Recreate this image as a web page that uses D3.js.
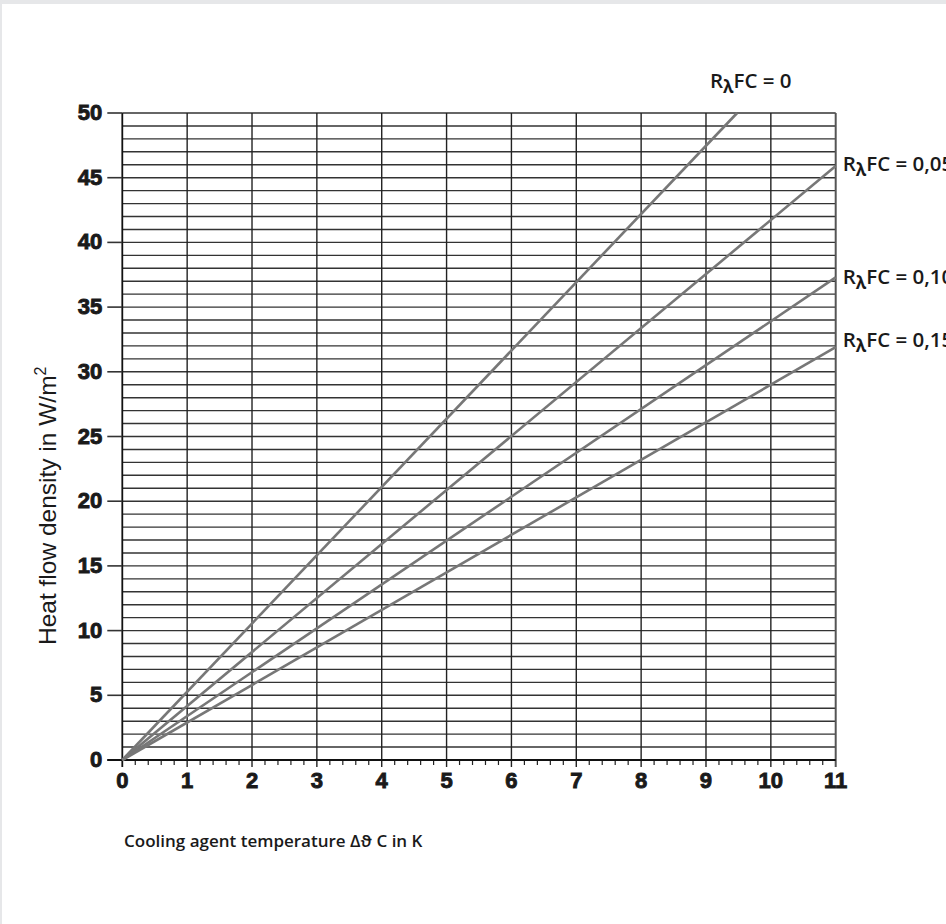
<!DOCTYPE html>
<html>
<head>
<meta charset="utf-8">
<script src="https://cdn.jsdelivr.net/npm/d3@7"></script>
<style>
  html, body { margin: 0; padding: 0; background: #e6e7e9; }
  #chart { position: absolute; left: 2px; top: 4px; width: 944px; height: 920px; background: #fff; }
</style>
</head>
<body>
<div id="chart"></div>
<script>
// values
const xTicks = [0, 1, 2, 3, 4, 5, 6, 7, 8, 9, 10, 11];
const yTicks = [0, 5, 10, 15, 20, 25, 30, 35, 40, 45, 50];
const gridY = [1, 2, 3, 4, 5, 6, 7, 8, 9, 10, 11, 12, 13, 14, 15, 16, 17, 18, 19, 20, 21, 22, 23, 24, 25,
  26, 27, 28, 29, 30, 31, 32, 33, 34, 35, 36, 37, 38, 39, 40, 41, 42, 43, 44, 45, 46, 47, 48, 49, 50];
const seriesNames = ['0', '0,05', '0,10', '0,15'];
const seriesStart = [[0, 0], [0, 0], [0, 0], [0, 0]];
const seriesEnd = [[9.48, 50], [11, 45.9], [11, 37.3], [11, 31.9]];

const width = 946;
const height = 924;

const svg = d3.select('body').append('svg')
  .attr('width', width)
  .attr('height', height)
  .style('position', 'absolute')
  .style('left', 0)
  .style('top', 0);

const x = d3.scaleLinear().domain([0, 11]).range([122.3, 835.7]);
const y = d3.scaleLinear().domain([0, 50]).range([760, 113]);

// horizontal grid, every 1 W/m2
svg.append('g').attr('class', 'hgrid')
  .selectAll('line')
  .data(gridY)
  .enter()
  .append('line')
  .attr('x1', x(0))
  .attr('x2', x(11))
  .attr('y1', (d) => y(d))
  .attr('y2', (d) => y(d))
  .attr('stroke', '#333')
  .attr('stroke-width', 1.4);

// vertical grid
svg.append('g').attr('class', 'vgrid')
  .selectAll('line')
  .data(xTicks.slice(1))
  .enter()
  .append('line')
  .attr('x1', (d) => x(d))
  .attr('x2', (d) => x(d))
  .attr('y1', y(50))
  .attr('y2', y(0) + 7)
  .attr('stroke', (d) => (d === 11 ? '#555' : '#222'))
  .attr('stroke-width', (d) => (d === 11 ? 2 : 1.4));

// minor ticks on x axis, every 0.2 K
const minor = d3.range(0, 55).filter((i) => i % 5 !== 0).map((i) => i / 5);
svg.append('g').attr('class', 'minor')
  .selectAll('line')
  .data(minor)
  .enter()
  .append('line')
  .attr('x1', (d) => x(d))
  .attr('x2', (d) => x(d))
  .attr('y1', y(0))
  .attr('y2', y(0) + 5)
  .attr('stroke', '#222')
  .attr('stroke-width', 1.2);

// y axis line and major ticks
svg.append('line')
  .attr('x1', x(0)).attr('x2', x(0))
  .attr('y1', y(50)).attr('y2', y(0) + 7)
  .attr('stroke', '#111').attr('stroke-width', 1.8);

svg.append('g').attr('class', 'yticks')
  .selectAll('line')
  .data(yTicks)
  .enter()
  .append('line')
  .attr('x1', x(0) - 15)
  .attr('x2', x(0))
  .attr('y1', (d) => y(d))
  .attr('y2', (d) => y(d))
  .attr('stroke', '#333')
  .attr('stroke-width', 1.6);

// x axis line
svg.append('line')
  .attr('x1', x(0) - 15).attr('x2', x(11))
  .attr('y1', y(0)).attr('y2', y(0))
  .attr('stroke', '#111').attr('stroke-width', 1.8);

// tick labels (heavy, so a thin stroke thickens them)
function heavy(sel) {
  sel.attr('font-family', 'Liberation Sans, Arial, sans-serif')
    .attr('font-weight', 'bold')
    .attr('font-size', 22)
    .attr('fill', '#1a1a1a')
    .attr('stroke', '#1a1a1a')
    .attr('stroke-width', 0.9);
}

svg.append('g').attr('class', 'ylabels')
  .selectAll('text')
  .data(yTicks)
  .enter()
  .append('text')
  .attr('x', x(0) - 20)
  .attr('y', (d) => y(d) + 7)
  .attr('text-anchor', 'end')
  .call(heavy)
  .text((d) => d);

svg.append('g').attr('class', 'xlabels')
  .selectAll('text')
  .data(xTicks)
  .enter()
  .append('text')
  .attr('x', (d) => x(d))
  .attr('y', y(0) + 28)
  .attr('text-anchor', 'middle')
  .call(heavy)
  .text((d) => d);

// series lines
const line = d3.line().x((d) => x(d[0])).y((d) => y(d[1]));
svg.append('g').attr('class', 'series')
  .selectAll('path')
  .data(seriesNames.map((n, i) => [seriesStart[i], seriesEnd[i]]))
  .enter()
  .append('path')
  .attr('d', line)
  .attr('fill', 'none')
  .attr('stroke', '#777')
  .attr('stroke-width', 2.6);

// series labels, the right-hand ones run off the page edge as in the original
const labelPos = [
  (e) => [710, y(e[1]) - 25],
  (e) => [x(e[0]) + 7, y(e[1]) + 5],
  (e) => [x(e[0]) + 7, y(e[1]) + 7],
  (e) => [x(e[0]) + 7, y(e[1]) + 0],
];
const labels = svg.append('g').attr('class', 'labels')
  .selectAll('text')
  .data(seriesNames)
  .enter()
  .append('text')
  .attr('x', (d, i) => labelPos[i](seriesEnd[i])[0])
  .attr('y', (d, i) => labelPos[i](seriesEnd[i])[1])
  .attr('font-family', 'Open Sans, sans-serif')
  .attr('font-weight', 600)
  .attr('font-size', 20.5)
  .attr('fill', '#1a1a1a');
labels.append('tspan').text('R');
labels.append('tspan').attr('dy', 5).attr('font-size', 17).attr('font-weight', 700).text('λ');
labels.append('tspan').attr('dy', -5).text((d) => `FC = ${d}`);

// axis titles
svg.append('text')
  .attr('transform', 'translate(56, 645) rotate(-90)')
  .attr('text-anchor', 'start')
  .attr('font-family', 'Liberation Sans, Arial, sans-serif')
  .attr('font-size', 24.5)
  .attr('fill', '#1a1a1a')
  .html('Heat flow density in W/m<tspan dy="-10" font-size="16">2</tspan>');

svg.append('text')
  .attr('x', 124)
  .attr('y', 847)
  .attr('font-family', 'Open Sans, sans-serif')
  .attr('font-weight', 600)
  .attr('font-size', 17)
  .attr('fill', '#1a1a1a')
  .text('Cooling agent temperature Δϑ C in K');
</script>
</body>
</html>
